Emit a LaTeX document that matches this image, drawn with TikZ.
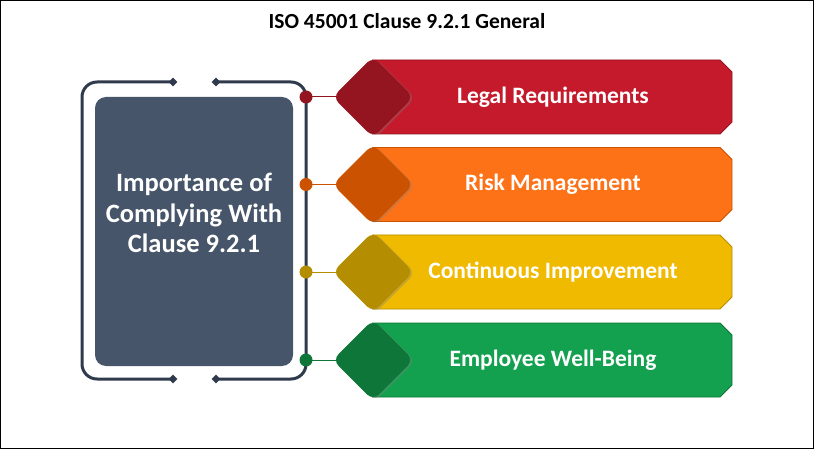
\documentclass[tikz,border=0pt]{standalone}
\usepackage{fontspec}
\setmainfont{Carlito}
\usetikzlibrary{shadows,shapes.geometric,backgrounds}
\definecolor{boxc}{HTML}{465569}
\definecolor{brk}{HTML}{2F3B4C}
\definecolor{bRed}{HTML}{C41A2B}\definecolor{dRed}{HTML}{94141F}
\definecolor{bOra}{HTML}{FE7217}\definecolor{dOra}{HTML}{CB5200}
\definecolor{bYel}{HTML}{EFBA00}\definecolor{dYel}{HTML}{B48E00}
\definecolor{bGrn}{HTML}{13A04F}\definecolor{dGrn}{HTML}{0D7638}
\tikzset{
  brline/.style={draw=brk, line width=3pt, rounded corners=15pt},
  tipmark/.style={draw=none, fill=brk, shape=diamond, minimum size=9pt, inner sep=0pt},
  dot/.style={circle, fill=#1, minimum size=13pt, inner sep=0pt},
  gem/.style={rectangle, rotate=45, fill=#1, minimum size=57pt, inner sep=0pt, rounded corners=8pt,
    drop shadow={opacity=0.35, shadow xshift=2pt, shadow yshift=-1pt}},
  btext/.style={text=white, font=\bfseries\fontsize{23.5}{28}\selectfont},
}
\begin{document}
\begin{tikzpicture}[x=1pt,y=-1pt]
\useasboundingbox (0,0) rectangle (814,449);
\draw[black, line width=1pt] (0.5,0.5) rectangle (813.5,448.5);
\node[font=\bfseries\fontsize{21.5}{25}\selectfont] (title) at (407,21) {ISO 45001 Clause 9.2.1 General};
% bracket
\node[tipmark] (t1) at (173,82) {};
\node[tipmark] (t2) at (216,82) {};
\node[tipmark] (t3) at (173,379) {};
\node[tipmark] (t4) at (216,379) {};
\draw[brline] (t1.center) -- (82,82) -- (82,379) -- (t3.center);
\draw[brline] (t2.center) -- (306,82) -- (306,379) -- (t4.center);
% main box
\node[fill=boxc, rounded corners=11pt, minimum width=198pt, minimum height=269pt, inner sep=0pt] (main) at (194,231.5) {};
\node[text=white, align=center, font=\bfseries\fontsize{26.5}{30.5}\selectfont] (maintext) at (194,213)
  {Importance of\\Complying With\\Clause 9.2.1};
% rows
\foreach \yc/\bc/\dc/\lab/\nm in {97/bRed/dRed/Legal Requirements/a,184.5/bOra/dOra/Risk Management/b,272/bYel/dYel/Continuous Improvement/c,360/bGrn/dGrn/Employee Well-Being/d}{
  \fill[\bc] (372,\yc-37) -- (720,\yc-37) -- (732,\yc-25) -- (732,\yc+25) -- (720,\yc+37) -- (372,\yc+37) -- cycle;
  \draw[\dc, line width=0.8pt] (372,\yc-37) -- (720,\yc-37) -- (732,\yc-25) -- (732,\yc+25) -- (720,\yc+37) -- (372,\yc+37);
  \node[gem=\dc] (g\nm) at (373,\yc) {};
  \node[dot=\dc] (c\nm) at (306,\yc) {};
  \begin{pgfonlayer}{background}
    \draw[\dc, line width=1pt] (c\nm.center) -- (g\nm.center);
  \end{pgfonlayer}
  \node[btext] (l\nm) at (553,\yc) {\lab};
}
\end{tikzpicture}
\end{document}
